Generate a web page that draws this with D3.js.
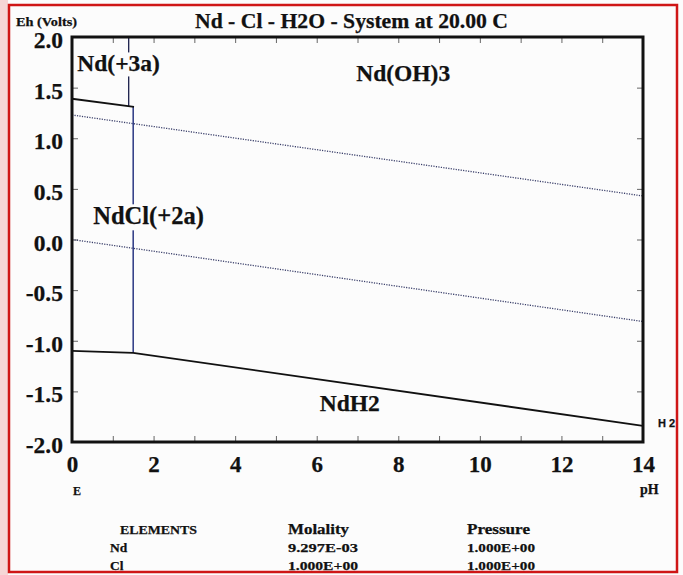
<!DOCTYPE html>
<html>
<head>
<meta charset="utf-8">
<script src="https://cdn.jsdelivr.net/npm/d3@7"></script>
<style>
  body { margin: 0; background: #fff; }
  svg text { font-family: "Liberation Serif", "Times New Roman", serif; font-weight: bold; fill: #111; stroke: #111; stroke-width: 0.25px; }
</style>
</head>
<body>
<div id="holder"></div>
<script>
// values (pH, Eh in volts)
var phTicks = [0, 2, 4, 6, 8, 10, 12, 14];
var ehTicks = [-2.0, -1.5, -1.0, -0.5, 0.0, 0.5, 1.0, 1.5, 2.0];

// water stability limits (dotted)
var waterO2 = [[0, 1.23], [14, 0.43]];
var waterH2 = [[0, 0.0], [14, -0.81]];

// field boundaries
var nd3Top = [[0, 1.39], [1.52, 1.31]];
var nd3Side = [[1.39, 2.0], [1.39, 1.31]];
var ndclSide = [[1.5, 1.31], [1.5, -1.12]];
var ndh2Top = [[0, -1.10], [1.5, -1.12], [14, -1.84]];

var fieldNames = ["Nd(+3a)", "Nd(OH)3", "NdCl(+2a)", "NdH2"];

var elements = ["Nd", "Cl"];
var molality = ["9.297E-03", "1.000E+00"];
var pressure = ["1.000E+00", "1.000E+00"];

var fullWidth = 683, fullHeight = 575;

var svg = d3.select('#holder').append('svg')
  .attr('width', fullWidth)
  .attr('height', fullHeight);

// page background + red scan border
svg.append('rect').attr('width', fullWidth).attr('height', fullHeight).attr('fill', '#fcfcfc');
svg.append('rect').attr('x', 0).attr('y', 0).attr('width', 8).attr('height', fullHeight).attr('fill', '#f6d6d6');
svg.append('rect')
  .attr('x', 9).attr('y', 5).attr('width', 668).attr('height', 567)
  .attr('fill', 'none').attr('stroke', '#cf1616').attr('stroke-width', 2.5);

var xScale = d3.scaleLinear().domain([0, 14]).range([72, 643]);
var yScale = d3.scaleLinear().domain([-2, 2]).range([442, 37]);

var line = d3.line()
  .x(function(d) { return xScale(d[0]); })
  .y(function(d) { return yScale(d[1]); });

// inner ticks on all four sides
var phMinor = d3.range(1, 14);
function tickAxis(g) { g.select('.domain').remove(); g.selectAll('.tick line').attr('stroke', '#666').attr('stroke-width', 1); }

svg.append('g').attr('transform', 'translate(0,442)')
  .call(d3.axisBottom(xScale).tickValues(phMinor).tickSize(-6).tickFormat(''))
  .call(tickAxis);
svg.append('g').attr('transform', 'translate(0,37)')
  .call(d3.axisTop(xScale).tickValues(phMinor).tickSize(-6).tickFormat(''))
  .call(tickAxis);
svg.append('g').attr('transform', 'translate(72,0)')
  .call(d3.axisLeft(yScale).tickValues(ehTicks.slice(1, -1)).tickSize(-6).tickFormat(''))
  .call(tickAxis);
svg.append('g').attr('transform', 'translate(643,0)')
  .call(d3.axisRight(yScale).tickValues(ehTicks.slice(1, -1)).tickSize(-6).tickFormat(''))
  .call(tickAxis);

// tick labels (plain hyphen for minus, like the original printout)
var fmtEh = function(v) { return d3.format('.1f')(v).replace('\u2212', '-'); };

var xLab = svg.append('g').attr('transform', 'translate(0,442)')
  .call(d3.axisBottom(xScale).tickValues(phTicks).tickSize(0).tickFormat(d3.format('d')));
xLab.select('.domain').remove();
xLab.selectAll('text').attr('y', 30).attr('dy', 0)
  .style('font-family', '"Liberation Serif", serif').style('font-weight', 'bold')
  .style('font-size', '23px').attr('fill', '#111');

var yLab = svg.append('g').attr('transform', 'translate(63,0)')
  .call(d3.axisLeft(yScale).tickValues(ehTicks).tickSize(0).tickPadding(0).tickFormat(fmtEh));
yLab.select('.domain').remove();
yLab.selectAll('text').attr('dy', 0).attr('y', 10.5)
  .style('font-family', '"Liberation Serif", serif').style('font-weight', 'bold')
  .style('font-size', '23.5px').attr('fill', '#111');

// dotted water lines
[waterO2, waterH2].forEach(function(d) {
  svg.append('path').datum(d).attr('d', line)
    .attr('fill', 'none').attr('stroke', '#3a3f6a').attr('stroke-width', 1.3)
    .attr('stroke-dasharray', '1.2,1.3');
});

// field boundaries
svg.append('path').datum(nd3Side).attr('d', line)
  .attr('fill', 'none').attr('stroke', '#1b1f4a').attr('stroke-width', 1.3);
svg.append('path').datum(ndclSide).attr('d', line)
  .attr('fill', 'none').attr('stroke', '#1c2a7a').attr('stroke-width', 1.4);
svg.append('path').datum(nd3Top).attr('d', line)
  .attr('fill', 'none').attr('stroke', '#111').attr('stroke-width', 1.8);
svg.append('path').datum(ndh2Top).attr('d', line)
  .attr('fill', 'none').attr('stroke', '#111').attr('stroke-width', 1.8);

// field labels, white box behind so boundary lines break under them
var labelPos = [[0.13, 1.66, 'start'], [8.12, 1.57, 'middle'], [0.52, 0.15, 'start'], [6.81, -1.69, 'middle']];
fieldNames.forEach(function(name, i) {
  var p = labelPos[i];
  var g = svg.append('g');
  var t = g.append('text')
    .attr('x', xScale(p[0])).attr('y', yScale(p[1]))
    .attr('text-anchor', p[2])
    .style('font-size', i === 2 ? '24.5px' : '23.5px')
    .text(name);
  var bb = t.node().getBBox();
  g.insert('rect', 'text')
    .attr('x', bb.x).attr('y', bb.y + 2).attr('width', bb.width).attr('height', bb.height - 2)
    .attr('fill', '#fcfcfc');
});

// frame
svg.append('rect')
  .attr('x', 72).attr('y', 37).attr('width', 643 - 72).attr('height', 442 - 37)
  .attr('fill', 'none').attr('stroke', '#111').attr('stroke-width', 3);

// titles
svg.append('text').attr('x', 195).attr('y', 28)
  .attr('textLength', 313).attr('lengthAdjust', 'spacingAndGlyphs')
  .style('font-size', '21px')
  .text('Nd - Cl - H2O - System at 20.00 C');
svg.append('text').attr('x', 16).attr('y', 26)
  .attr('textLength', 61).attr('lengthAdjust', 'spacingAndGlyphs')
  .style('font-size', '13px').text('Eh (Volts)');
svg.append('text').attr('x', 658).attr('y', 427)
  .style('font-family', '"Liberation Sans", Arial, sans-serif')
  .style('font-size', '11px').text('H 2');
svg.append('text').attr('x', 73).attr('y', 495)
  .style('font-size', '12px').text('E');
svg.append('text').attr('x', 640).attr('y', 494)
  .style('font-size', '14px').text('pH');

// legend table
var cols = [110, 288, 467];
svg.append('text').attr('x', 120).attr('y', 534)
  .attr('textLength', 77).attr('lengthAdjust', 'spacingAndGlyphs')
  .style('font-size', '13px').text('ELEMENTS');
svg.append('text').attr('x', cols[1]).attr('y', 534)
  .attr('textLength', 61).attr('lengthAdjust', 'spacingAndGlyphs')
  .style('font-size', '14px').text('Molality');
svg.append('text').attr('x', cols[2]).attr('y', 534)
  .attr('textLength', 63).attr('lengthAdjust', 'spacingAndGlyphs')
  .style('font-size', '14px').text('Pressure');

elements.forEach(function(el, i) {
  var yy = 552 + i * 18;
  svg.append('text').attr('x', cols[0]).attr('y', yy).style('font-size', '13.5px').text(el);
  svg.append('text').attr('x', cols[1]).attr('y', yy)
    .attr('textLength', 70).attr('lengthAdjust', 'spacingAndGlyphs')
    .style('font-size', '13.5px').text(molality[i]);
  svg.append('text').attr('x', cols[2]).attr('y', yy)
    .attr('textLength', 68).attr('lengthAdjust', 'spacingAndGlyphs')
    .style('font-size', '13.5px').text(pressure[i]);
});
</script>
</body>
</html>
